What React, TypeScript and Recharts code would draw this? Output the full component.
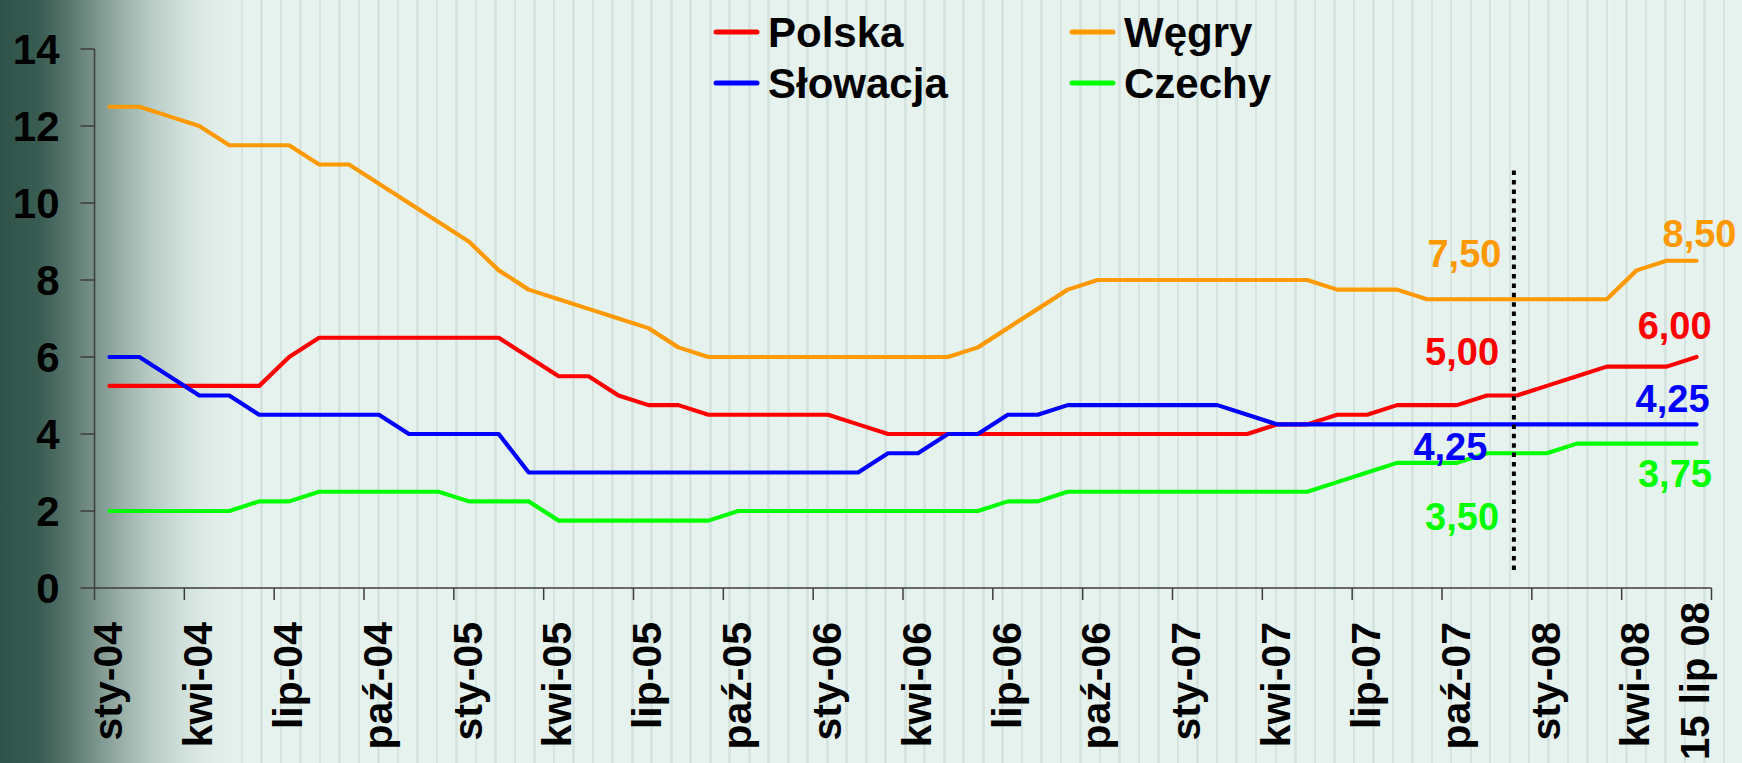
import React from 'react';
import { LineChart, Line, XAxis, YAxis, ReferenceLine, ReferenceDot, Legend } from 'recharts';

const FONT = "'Liberation Sans', Arial, Helvetica, sans-serif";

// monthly categories (last point = 15 July 2008)
const categories = [
  'sty-04', 'lut-04', 'mar-04', 'kwi-04', 'maj-04', 'cze-04', 'lip-04', 'sie-04', 'wrz-04', 'paź-04', 'lis-04', 'gru-04',
  'sty-05', 'lut-05', 'mar-05', 'kwi-05', 'maj-05', 'cze-05', 'lip-05', 'sie-05', 'wrz-05', 'paź-05', 'lis-05', 'gru-05',
  'sty-06', 'lut-06', 'mar-06', 'kwi-06', 'maj-06', 'cze-06', 'lip-06', 'sie-06', 'wrz-06', 'paź-06', 'lis-06', 'gru-06',
  'sty-07', 'lut-07', 'mar-07', 'kwi-07', 'maj-07', 'cze-07', 'lip-07', 'sie-07', 'wrz-07', 'paź-07', 'lis-07', 'gru-07',
  'sty-08', 'lut-08', 'mar-08', 'kwi-08', 'maj-08', '15 lip 08',
];

const polska = [
  5.25, 5.25, 5.25, 5.25, 5.25, 5.25, 6.0, 6.5, 6.5, 6.5, 6.5, 6.5,
  6.5, 6.5, 6.0, 5.5, 5.5, 5.0, 4.75, 4.75, 4.5, 4.5, 4.5, 4.5,
  4.5, 4.25, 4.0, 4.0, 4.0, 4.0, 4.0, 4.0, 4.0, 4.0, 4.0, 4.0,
  4.0, 4.0, 4.0, 4.25, 4.25, 4.5, 4.5, 4.75, 4.75, 4.75, 5.0, 5.0,
  5.25, 5.5, 5.75, 5.75, 5.75, 6.0,
];

const wegry = [
  12.5, 12.5, 12.25, 12.0, 11.5, 11.5, 11.5, 11.0, 11.0, 10.5, 10.0, 9.5,
  9.0, 8.25, 7.75, 7.5, 7.25, 7.0, 6.75, 6.25, 6.0, 6.0, 6.0, 6.0,
  6.0, 6.0, 6.0, 6.0, 6.0, 6.25, 6.75, 7.25, 7.75, 8.0, 8.0, 8.0,
  8.0, 8.0, 8.0, 8.0, 8.0, 7.75, 7.75, 7.75, 7.5, 7.5, 7.5, 7.5,
  7.5, 7.5, 7.5, 8.25, 8.5, 8.5,
];

const slowacja = [
  6.0, 6.0, 5.5, 5.0, 5.0, 4.5, 4.5, 4.5, 4.5, 4.5, 4.0, 4.0,
  4.0, 4.0, 3.0, 3.0, 3.0, 3.0, 3.0, 3.0, 3.0, 3.0, 3.0, 3.0,
  3.0, 3.0, 3.5, 3.5, 4.0, 4.0, 4.5, 4.5, 4.75, 4.75, 4.75, 4.75,
  4.75, 4.75, 4.5, 4.25, 4.25, 4.25, 4.25, 4.25, 4.25, 4.25, 4.25, 4.25,
  4.25, 4.25, 4.25, 4.25, 4.25, 4.25,
];

const czechy = [
  2.0, 2.0, 2.0, 2.0, 2.0, 2.25, 2.25, 2.5, 2.5, 2.5, 2.5, 2.5,
  2.25, 2.25, 2.25, 1.75, 1.75, 1.75, 1.75, 1.75, 1.75, 2.0, 2.0, 2.0,
  2.0, 2.0, 2.0, 2.0, 2.0, 2.0, 2.25, 2.25, 2.5, 2.5, 2.5, 2.5,
  2.5, 2.5, 2.5, 2.5, 2.5, 2.75, 3.0, 3.25, 3.25, 3.25, 3.5, 3.5,
  3.5, 3.75, 3.75, 3.75, 3.75, 3.75,
];

const yTicks = [0, 2, 4, 6, 8, 10, 12, 14];
// indices of categories that carry a visible label
const xLabelIndices = [0, 3, 6, 9, 12, 15, 18, 21, 24, 27, 30, 33, 36, 39, 42, 45, 48, 51, 53];
// tick-mark positions (boundaries between quarters)
const xBoundaryTicks = [-0.5, 2.5, 5.5, 8.5, 11.5, 14.5, 17.5, 20.5, 23.5, 26.5, 29.5, 32.5, 35.5, 38.5, 41.5, 44.5, 47.5, 50.5, 53.5];

const series = [
  { key: 'pl', name: 'Polska', color: '#ff0000', values: polska },
  { key: 'hu', name: 'Węgry', color: '#ff9900', values: wegry },
  { key: 'sk', name: 'Słowacja', color: '#0000ff', values: slowacja },
  { key: 'cz', name: 'Czechy', color: '#00ff00', values: czechy },
];

// value annotations: [category position, value position, text, color]
const annotations: [number, number, string, string][] = [
  [45.25, 8.69, '7,50', '#ff9900'],
  [53.1, 9.21, '8,50', '#ff9900'],
  [45.17, 6.14, '5,00', '#ff0000'],
  [52.27, 6.82, '6,00', '#ff0000'],
  [52.2, 4.92, '4,25', '#0000ff'],
  [44.78, 3.68, '4,25', '#0000ff'],
  [52.28, 2.97, '3,75', '#00ff00'],
  [45.17, 1.86, '3,50', '#00ff00'],
];

// dotted separator (category position, bottom value, top value)
const separator = { x: 46.9, y0: 0.47, y1: 10.86 };

const rows = categories.map((c, i) => ({
  i,
  label: c,
  pl: polska[i],
  hu: wegry[i],
  sk: slowacja[i],
  cz: czechy[i],
}));

const xAxisTicks = [...xBoundaryTicks, ...xLabelIndices].sort((a, b) => a - b);

const AXIS_COLOR = '#3c3c3c';

const XTick = (props: any) => {
  const { x, y, payload } = props;
  const v = payload.value;
  if (!Number.isInteger(v)) {
    return <line x1={x} y1={y} x2={x} y2={y + 12} stroke={AXIS_COLOR} strokeWidth={1.5} />;
  }
  const text = categories[v];
  const isLast = v === categories.length - 1;
  const lift = isLast ? 20 : 0;
  const ay = y + 34 - lift;
  return (
    <text
      x={x}
      y={ay}
      transform={`rotate(-90 ${x} ${ay})`}
      textAnchor="end"
      dy="0.31em"
      fontSize={isLast ? 40 : 41}
      fontWeight={700}
      fontFamily={FONT}
      fill="#000"
    >
      {text}
    </text>
  );
};

const legendLayout = [
  { s: 0, lx: 716, ty: 47, ly: 32 },
  { s: 1, lx: 1072, ty: 47, ly: 32 },
  { s: 2, lx: 716, ty: 98, ly: 83 },
  { s: 3, lx: 1072, ty: 98, ly: 83 },
];

const renderLegend = () => (
  <svg width={1742} height={115} style={{ display: 'block' }}>
    {legendLayout.map((l) => {
      const s = series[l.s];
      return (
        <g key={s.key}>
          <line x1={l.lx} y1={l.ly} x2={l.lx + 41} y2={l.ly} stroke={s.color} strokeWidth={5} strokeLinecap="round" />
          <text x={l.lx + 52} y={l.ty} fontSize={42} fontWeight={700} fontFamily={FONT} fill="#000">
            {s.name}
          </text>
        </g>
      );
    })}
  </svg>
);

const BG = [
  'linear-gradient(to right, #2e5248 0px, #3a5d53 40px, #5a776e 70px, #7a948c 96px, #98aea7 120px, #b2c6bf 145px, #c7d8d2 170px, #d8e6e1 195px, rgba(226,238,234,1) 220px, rgba(230,242,238,0) 245px)',
  'repeating-linear-gradient(to right, #e6f2ee 0px, #e6f2ee 7px, #d5e4df 7px, #d5e4df 9.5px, #e9f4f0 9.5px, #e9f4f0 10.5px, #e6f2ee 10.5px, #e6f2ee 19.5px)',
].join(', ');

export default function App() {
  return (
    <div
      style={{
        position: 'fixed',
        left: 0,
        top: 0,
        width: 1742,
        height: 763,
        overflow: 'hidden',
        background: BG,
        backgroundColor: '#e6f2ee',
      }}
    >
      <LineChart width={1742} height={763} data={rows} margin={{ top: 49, right: 30.5, bottom: 0, left: 0 }}>
        <XAxis
          dataKey="i"
          type="number"
          domain={[-0.5, 53.5]}
          ticks={xAxisTicks}
          interval={0}
          height={175}
          tickSize={0}
          tickMargin={0}
          tickLine={false}
          tick={<XTick />}
          axisLine={{ stroke: AXIS_COLOR, strokeWidth: 1.5 }}
          allowDataOverflow
        />
        <YAxis
          type="number"
          domain={[0, 14]}
          ticks={yTicks}
          interval={0}
          width={94.5}
          tickSize={14}
          tickMargin={21}
          tick={{ fill: '#000', fontSize: 42, fontWeight: 700, fontFamily: FONT }}
          tickLine={{ stroke: AXIS_COLOR, strokeWidth: 1.5 }}
          axisLine={{ stroke: AXIS_COLOR, strokeWidth: 1.5 }}
        />
        <Legend
          layout="vertical"
          align="center"
          verticalAlign="middle"
          wrapperStyle={{ top: 0, left: 0, width: 1742, height: 115 }}
          content={renderLegend}
        />
        {series.map((s) => (
          <Line
            key={s.key}
            dataKey={s.key}
            name={s.name}
            type="linear"
            stroke={s.color}
            strokeWidth={4.2}
            strokeLinecap="round"
            strokeLinejoin="round"
            dot={false}
            activeDot={false}
            isAnimationActive={false}
          />
        ))}
        <ReferenceLine
          segment={[
            { x: separator.x, y: separator.y0 },
            { x: separator.x, y: separator.y1 },
          ]}
          stroke="#000"
          strokeWidth={4}
          strokeDasharray="4.5 4.9"
          ifOverflow="visible"
        />
        {annotations.map(([ax, ay, text, color], k) => (
          <ReferenceDot
            key={k}
            x={ax}
            y={ay}
            r={0}
            fill="none"
            stroke="none"
            ifOverflow="visible"
            label={{ value: text, position: 'center', fill: color, fontSize: 38, fontWeight: 700, fontFamily: FONT }}
          />
        ))}
      </LineChart>
    </div>
  );
}
